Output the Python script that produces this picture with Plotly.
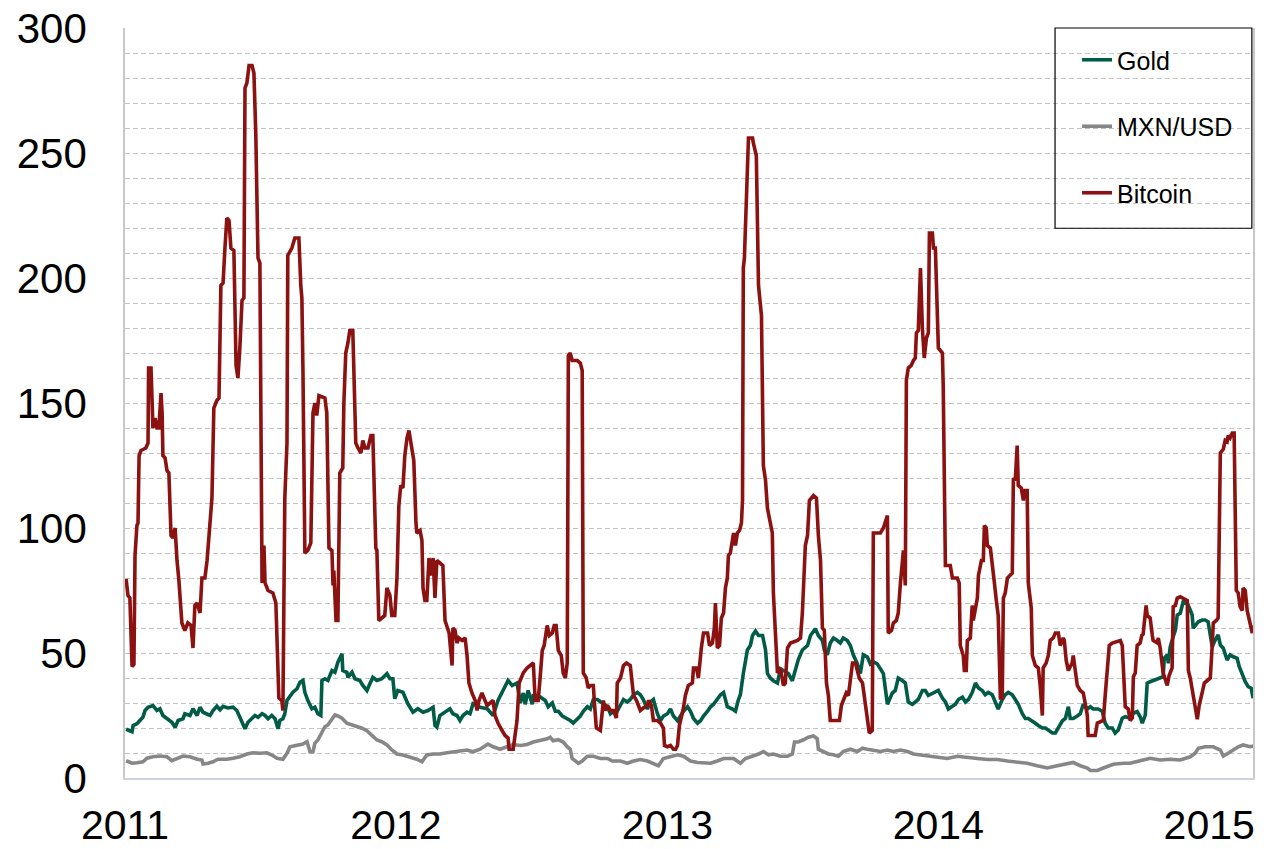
import numpy as np
import pandas as pd
import plotly.graph_objects as go

# ---- data: (decimal year, annualised volatility %) ----
btc = [
(2011.004,79.6),(2011.011,73),(2011.018,72),(2011.026,44.6),(2011.033,45.5),(2011.037,89),(2011.044,101),(2011.048,102),(2011.052,129),(2011.059,131),(2011.077,132),(2011.085,134),(2011.087,164),(2011.096,164),(2011.100,151),(2011.103,140),(2011.111,144),(2011.118,140),(2011.125,140),(2011.133,154),(2011.137,146),(2011.140,129),(2011.148,128),(2011.155,123),(2011.162,122),(2011.170,97),(2011.177,96),(2011.185,100),(2011.192,87),(2011.199,79),(2011.210,62),(2011.221,59),(2011.232,62),(2011.244,61),(2011.251,52),(2011.258,69),(2011.266,70),(2011.277,66),(2011.284,80),(2011.295,80),(2011.303,87),(2011.314,100),(2011.321,112),(2011.328,148),(2011.339,151),(2011.347,152),(2011.354,197),(2011.362,198),(2011.365,208),(2011.369,212),(2011.376,224),(2011.384,223),(2011.391,212),(2011.402,211),(2011.410,165),(2011.417,160),(2011.424,172),(2011.432,191),(2011.439,192),(2011.443,276),(2011.450,278),(2011.458,285),(2011.469,285),(2011.476,282),(2011.483,257),(2011.491,208),(2011.498,206),(2011.506,78),(2011.513,93),(2011.517,78),(2011.528,75),(2011.546,74),(2011.557,70),(2011.565,47),(2011.568,32),(2011.579,31),(2011.583,27),(2011.590,112),(2011.598,134),(2011.601,209),(2011.616,212),(2011.627,216),(2011.642,216),(2011.649,197),(2011.653,192),(2011.657,163),(2011.664,90),(2011.675,91),(2011.686,94),(2011.694,146),(2011.701,150),(2011.708,145),(2011.716,153),(2011.738,152),(2011.745,146),(2011.753,92),(2011.764,91),(2011.768,77),(2011.771,83),(2011.779,63),(2011.786,63),(2011.793,122),(2011.804,124),(2011.808,150),(2011.815,170),(2011.823,174),(2011.830,179),(2011.841,179),(2011.845,163),(2011.852,134),(2011.860,132),(2011.871,130),(2011.878,135),(2011.886,132),(2011.897,132),(2011.908,137),(2011.915,137),(2011.926,92),(2011.930,91),(2011.937,63),(2011.948,64),(2011.959,65),(2011.967,76),(2011.978,73),(2011.985,65),(2011.996,65),
(2012.004,80),(2012.011,109),(2012.018,117),(2012.026,116),(2012.033,129),(2012.041,136),(2012.048,139),(2012.059,132),(2012.066,127),(2012.074,102),(2012.077,98),(2012.089,99),(2012.096,95),(2012.100,76),(2012.107,71),(2012.114,71),(2012.122,88),(2012.129,81),(2012.137,88),(2012.144,72),(2012.151,87),(2012.162,86),(2012.173,85),(2012.181,63),(2012.188,61),(2012.196,58),(2012.207,45),(2012.210,60),(2012.218,59),(2012.225,54),(2012.232,56),(2012.244,55),(2012.255,56),(2012.262,49),(2012.269,38),(2012.280,34),(2012.292,31),(2012.299,27),(2012.306,31),(2012.317,34),(2012.328,31),(2012.336,29),(2012.347,30),(2012.358,31),(2012.365,25),(2012.376,22),(2012.391,19),(2012.402,17),(2012.413,16),(2012.417,11.5),(2012.432,11.5),(2012.439,17),(2012.446,23),(2012.454,38),(2012.469,42),(2012.483,44),(2012.506,46),(2012.513,31),(2012.524,31),(2012.531,40),(2012.539,51),(2012.546,53),(2012.553,60),(2012.557,61),(2012.565,57),(2012.576,58),(2012.583,61),(2012.590,61),(2012.598,51),(2012.609,49),(2012.616,42),(2012.624,40),(2012.631,46),(2012.635,169),(2012.642,170),(2012.649,167),(2012.668,167),(2012.679,166),(2012.686,163),(2012.690,42),(2012.701,40),(2012.708,36),(2012.716,37),(2012.727,37),(2012.731,30),(2012.738,20),(2012.753,19),(2012.760,25),(2012.764,31),(2012.771,27),(2012.779,29),(2012.790,27),(2012.801,27),(2012.812,24),(2012.815,38),(2012.827,40),(2012.838,45),(2012.849,46),(2012.863,45),(2012.875,33),(2012.886,31),(2012.893,29),(2012.900,27),(2012.911,28),(2012.926,29),(2012.930,31),(2012.941,29),(2012.948,23),(2012.963,23),(2012.974,22),(2012.985,20),(2012.989,13),
(2013.000,12.5),(2013.011,13),(2013.022,11.5),(2013.030,11.5),(2013.037,13),(2013.044,21),(2013.059,28),(2013.066,33),(2013.077,37),(2013.092,38),(2013.096,44),(2013.107,44),(2013.114,40),(2013.125,52),(2013.133,58),(2013.148,58),(2013.155,53),(2013.166,54),(2013.173,60),(2013.177,70),(2013.184,52),(2013.192,53),(2013.199,64),(2013.207,66),(2013.214,76),(2013.221,80),(2013.225,89),(2013.232,90),(2013.240,97),(2013.244,98),(2013.251,93),(2013.258,98),(2013.266,99),(2013.273,102),(2013.277,111),(2013.280,204),(2013.284,208),(2013.288,219),(2013.295,246),(2013.299,256),(2013.314,256),(2013.317,254),(2013.328,249),(2013.332,229),(2013.336,197),(2013.347,185),(2013.354,125),(2013.362,119),(2013.369,108),(2013.376,104),(2013.387,98),(2013.391,74),(2013.399,53),(2013.406,42),(2013.417,44),(2013.428,37),(2013.435,38),(2013.443,52),(2013.454,54),(2013.480,55),(2013.491,56),(2013.498,66),(2013.509,93),(2013.517,97),(2013.524,111),(2013.539,113),(2013.550,112),(2013.557,97),(2013.565,87),(2013.572,60),(2013.579,59),(2013.587,38),(2013.594,33),(2013.601,23),(2013.635,23),(2013.642,29),(2013.649,31),(2013.660,34),(2013.668,33),(2013.675,38),(2013.683,46),(2013.694,46),(2013.701,43),(2013.708,40),(2013.720,38),(2013.727,32),(2013.738,23),(2013.745,18),(2013.756,19),(2013.760,98),(2013.786,98),(2013.797,100),(2013.812,105),(2013.815,58),(2013.827,59),(2013.834,62),(2013.845,63),(2013.852,66),(2013.860,78),(2013.867,87),(2013.871,91),(2013.878,77),(2013.882,159),(2013.889,164),(2013.900,165),(2013.908,167),(2013.915,168),(2013.919,178),(2013.926,179),(2013.934,204),(2013.941,180),(2013.948,168),(2013.956,176),(2013.963,178),(2013.967,218),(2013.978,218),(2013.982,212),(2013.989,212),(2013.996,182),
(2014.000,172),(2014.015,170),(2014.018,157),(2014.026,85),(2014.044,85),(2014.052,80),(2014.070,80),(2014.077,78),(2014.081,53),(2014.092,49),(2014.096,43),(2014.103,43),(2014.107,55),(2014.118,56),(2014.125,69),(2014.129,63),(2014.137,69),(2014.144,72),(2014.148,81),(2014.159,87),(2014.166,87),(2014.170,101),(2014.177,100),(2014.181,93),(2014.192,92),(2014.199,84),(2014.207,78),(2014.214,71),(2014.221,65),(2014.229,32),(2014.236,32),(2014.240,72),(2014.247,74),(2014.255,80),(2014.262,81),(2014.273,82),(2014.277,120),(2014.284,119),(2014.291,133),(2014.295,117),(2014.306,116),(2014.314,111),(2014.317,115),(2014.328,115),(2014.332,78),(2014.343,68),(2014.347,49),(2014.358,45),(2014.369,44),(2014.376,37),(2014.384,25),(2014.387,44),(2014.398,46),(2014.406,49),(2014.413,55),(2014.424,56),(2014.432,58),(2014.443,58),(2014.450,53),(2014.461,56),(2014.465,55),(2014.472,47),(2014.480,43),(2014.494,46),(2014.498,49),(2014.506,41),(2014.513,37),(2014.524,35),(2014.535,34),(2014.542,30),(2014.550,25),(2014.553,17),(2014.579,17),(2014.587,22),(2014.609,23),(2014.616,33),(2014.624,42),(2014.631,53),(2014.642,54),(2014.672,55),(2014.679,53),(2014.690,28.5),(2014.701,27.6),(2014.708,23),(2014.716,24),(2014.720,40.5),(2014.727,42),(2014.734,53),(2014.745,54),(2014.751,57),(2014.756,57.5),(2014.767,69),(2014.771,65),(2014.782,64),(2014.790,57),(2014.793,55),(2014.808,54),(2014.812,56),(2014.819,52),(2014.827,43),(2014.830,42),(2014.845,37),(2014.852,41),(2014.863,44),(2014.867,68.5),(2014.875,69),(2014.882,72),(2014.893,72.5),(2014.904,72),(2014.919,71),(2014.923,43),(2014.930,40),(2014.941,33),(2014.948,29),(2014.956,23.5),(2014.963,29),(2014.974,34),(2014.982,38),(2014.993,39),
(2015.004,40),(2015.011,53),(2015.015,62),(2015.026,63),(2015.033,64),(2015.041,130),(2015.052,131.5),(2015.059,135),(2015.066,134.5),(2015.070,137),(2015.077,136),(2015.085,138),(2015.092,138),(2015.100,75),(2015.107,74),(2015.114,68.5),(2015.122,67),(2015.125,76),(2015.133,75),(2015.140,67),(2015.151,62),(2015.159,58),(2015.162,61)]

gold = [
(2011.004,19.5),(2011.026,18.5),(2011.030,21),(2011.044,21.7),(2011.066,24.3),(2011.074,27),(2011.085,28.3),(2011.103,29),(2011.118,27),(2011.129,27.7),(2011.140,25),(2011.155,23.7),(2011.173,22.3),(2011.185,20.3),(2011.196,23),(2011.214,23.7),(2011.221,25.7),(2011.240,25),(2011.251,27.7),(2011.266,25),(2011.277,28.3),(2011.288,26.3),(2011.303,25.7),(2011.314,25),(2011.325,27),(2011.339,28.7),(2011.351,27.3),(2011.362,28.7),(2011.380,28),(2011.399,28.3),(2011.413,27),(2011.424,24.3),(2011.435,21.7),(2011.443,19.7),(2011.454,22.3),(2011.469,23.7),(2011.480,25),(2011.491,24.3),(2011.506,25.7),(2011.517,25),(2011.528,23.7),(2011.542,25),(2011.554,23.7),(2011.565,19.7),(2011.572,23),(2011.583,23.7),(2011.590,25.7),(2011.598,31),(2011.609,33),(2011.620,34.3),(2011.635,35.7),(2011.646,38.3),(2011.657,39),(2011.664,34.3),(2011.675,31),(2011.690,27.7),(2011.701,28.3),(2011.712,25.7),(2011.723,25),(2011.727,39),(2011.738,39.7),(2011.749,39),(2011.764,43),(2011.775,42.3),(2011.786,46.3),(2011.801,49.7),(2011.804,43),(2011.819,42.3),(2011.823,40.3),(2011.838,42.3),(2011.849,39.7),(2011.867,39),(2011.878,37),(2011.893,35),(2011.904,37.7),(2011.915,40.3),(2011.930,39),(2011.948,39.7),(2011.967,41.7),(2011.978,39.7),(2011.989,39.7),(2011.996,31.7),
(2012.007,35),(2012.026,34.3),(2012.044,29.7),(2012.063,26.3),(2012.081,27.7),(2012.100,26.3),(2012.118,27),(2012.137,28.3),(2012.144,21),(2012.151,20.3),(2012.162,25),(2012.181,26.3),(2012.199,27.7),(2012.210,25.7),(2012.225,25),(2012.236,23),(2012.247,25),(2012.262,26.3),(2012.273,25.7),(2012.284,29.7),(2012.310,28.3),(2012.336,27.7),(2012.358,25),(2012.376,31),(2012.395,35),(2012.413,39),(2012.428,37),(2012.446,38),(2012.458,30),(2012.469,34),(2012.476,29.5),(2012.487,35),(2012.502,29.5),(2012.506,33),(2012.524,33),(2012.539,32),(2012.550,31),(2012.561,28.5),(2012.576,30),(2012.587,26.7),(2012.598,26.7),(2012.613,24.8),(2012.631,23.8),(2012.642,23),(2012.653,22),(2012.668,23.8),(2012.679,24.8),(2012.690,26.7),(2012.705,28.5),(2012.716,27.6),(2012.727,31.4),(2012.742,31.4),(2012.753,30.4),(2012.764,29.5),(2012.779,28.5),(2012.790,25.7),(2012.801,26.7),(2012.815,26.7),(2012.827,29.5),(2012.838,31.4),(2012.852,30.4),(2012.863,31.4),(2012.875,33.3),(2012.889,34.2),(2012.900,33.3),(2012.911,31.4),(2012.926,27.6),(2012.937,30.4),(2012.948,31.4),(2012.963,25.7),(2012.974,22.9),(2012.985,24.8),
(2013.000,25.7),(2013.011,27.6),(2013.022,24.8),(2013.037,22.9),(2013.048,24.8),(2013.059,26.7),(2013.074,28.5),(2013.085,26.7),(2013.096,23.8),(2013.111,21.9),(2013.122,22.9),(2013.133,24.8),(2013.148,26.7),(2013.159,28.5),(2013.170,29.5),(2013.184,31.4),(2013.196,33.3),(2013.207,34.2),(2013.221,28.5),(2013.240,27.6),(2013.251,26.7),(2013.262,31.4),(2013.269,33.3),(2013.280,41.8),(2013.295,51.2),(2013.306,53),(2013.314,57),(2013.325,58.8),(2013.336,57),(2013.351,57),(2013.362,51.2),(2013.369,41.8),(2013.380,39.9),(2013.391,38.9),(2013.406,38),(2013.417,43.7),(2013.435,42.7),(2013.446,41.8),(2013.461,38.9),(2013.472,43.7),(2013.483,47.4),(2013.498,51.2),(2013.517,53),(2013.528,57),(2013.546,59.7),(2013.557,57),(2013.572,55),(2013.579,51.2),(2013.590,49.3),(2013.601,54),(2013.613,56),(2013.627,55),(2013.638,54),(2013.649,56),(2013.664,55),(2013.675,53),(2013.686,49.3),(2013.701,45.6),(2013.712,41.8),(2013.723,49.3),(2013.738,48.4),(2013.749,45.6),(2013.760,46.5),(2013.775,45.6),(2013.786,43.7),(2013.797,41.8),(2013.812,29.5),(2013.830,34),(2013.841,35),(2013.852,40),(2013.867,39),(2013.878,38),(2013.889,30.4),(2013.904,29.5),(2013.915,30.4),(2013.926,31.4),(2013.941,35),(2013.952,35),(2013.963,33),(2013.982,34),
(2014.000,35),(2014.015,32),(2014.026,30.4),(2014.037,27.6),(2014.052,28.5),(2014.063,29.5),(2014.074,31.4),(2014.089,32.3),(2014.100,30.4),(2014.111,31.4),(2014.125,34.2),(2014.137,38),(2014.148,36),(2014.162,35),(2014.173,33.3),(2014.184,34.2),(2014.199,33.3),(2014.210,30.4),(2014.221,27.6),(2014.236,31.4),(2014.247,33.3),(2014.258,34.2),(2014.273,33.3),(2014.284,31.4),(2014.295,29.5),(2014.310,25.7),(2014.321,23.8),(2014.332,23.8),(2014.347,22.9),(2014.358,21.9),(2014.369,21),(2014.384,20),(2014.395,20),(2014.406,19),(2014.421,18),(2014.432,18),(2014.443,20),(2014.458,22.9),(2014.469,23.8),(2014.480,28.5),(2014.487,23.8),(2014.498,23.8),(2014.513,24.8),(2014.524,25.7),(2014.535,29.5),(2014.550,27.6),(2014.561,28.5),(2014.572,27.6),(2014.590,27.6),(2014.605,26.7),(2014.616,21.9),(2014.627,20),(2014.642,20),(2014.653,18),(2014.664,19.2),(2014.679,23.9),(2014.690,24.5),(2014.708,23.9),(2014.720,25.9),(2014.734,26.6),(2014.745,24.5),(2014.753,21.9),(2014.764,25.2),(2014.771,37.9),(2014.782,38.5),(2014.801,39.2),(2014.819,39.9),(2014.830,40.5),(2014.834,47.9),(2014.845,49.2),(2014.849,45.9),(2014.856,52.5),(2014.867,56.5),(2014.875,59.2),(2014.882,65.2),(2014.893,65.9),(2014.904,70.5),(2014.919,69.9),(2014.930,67.2),(2014.937,65.2),(2014.941,59.9),(2014.952,61.2),(2014.960,62.5),(2014.974,63.2),(2014.985,63.2),(2014.996,62.5),
(2015.004,56.5),(2015.011,52.5),(2015.022,55.2),(2015.033,57.2),(2015.041,53.2),(2015.052,51.9),(2015.066,47.2),(2015.077,49.2),(2015.089,48.5),(2015.103,47.9),(2015.111,44.5),(2015.122,41.2),(2015.133,38.5),(2015.144,36.5),(2015.155,35.9),(2015.162,31.9)]

mxn = [
(2011.004,6.9),(2011.026,5.9),(2011.044,6.1),(2011.066,6.5),(2011.081,7.9),(2011.103,8.5),(2011.129,8.8),(2011.155,8.5),(2011.173,6.9),(2011.192,7.9),(2011.214,8.8),(2011.240,8.5),(2011.266,7.5),(2011.284,7.2),(2011.288,5.6),(2011.306,5.9),(2011.325,6.5),(2011.343,7.5),(2011.376,7.5),(2011.399,7.9),(2011.424,8.5),(2011.450,9.6),(2011.472,10.1),(2011.498,9.9),(2011.524,10.1),(2011.542,9.2),(2011.561,7.9),(2011.583,7.5),(2011.598,9.9),(2011.609,12.5),(2011.635,13.2),(2011.657,13.6),(2011.672,14.5),(2011.683,10.5),(2011.694,10.5),(2011.701,13.9),(2011.712,15.2),(2011.727,18.5),(2011.738,20.5),(2011.749,21.2),(2011.764,23.2),(2011.775,25.2),(2011.786,24.8),(2011.801,23.9),(2011.819,21.9),(2011.838,21.2),(2011.856,20.8),(2011.875,19.9),(2011.893,18.9),(2011.911,17.2),(2011.930,15.2),(2011.948,14.5),(2011.967,13.2),(2011.985,11.2),
(2012.004,9.6),(2012.026,9.2),(2012.052,8.5),(2012.077,7.5),(2012.096,6.5),(2012.114,9.2),(2012.137,9.6),(2012.162,9.6),(2012.188,10.1),(2012.210,10.5),(2012.236,10.9),(2012.262,11.2),(2012.284,10.5),(2012.310,11.5),(2012.339,13.6),(2012.358,12.5),(2012.384,11.5),(2012.410,12.5),(2012.432,13.4),(2012.458,13),(2012.483,13.4),(2012.506,14.4),(2012.531,14.9),(2012.557,15.7),(2012.568,16.3),(2012.579,14.9),(2012.598,15.3),(2012.616,14.4),(2012.631,12.5),(2012.642,11.5),(2012.649,7.8),(2012.661,6.8),(2012.672,5.9),(2012.686,6.8),(2012.705,8.7),(2012.727,8.7),(2012.753,7.8),(2012.779,7.8),(2012.797,6.8),(2012.827,6.8),(2012.852,5.9),(2012.875,6.8),(2012.900,7.4),(2012.926,6.8),(2012.948,5.9),(2012.967,4.9),(2012.985,7.8),
(2013.011,8.7),(2013.037,9.3),(2013.059,8.7),(2013.085,6.8),(2013.111,6.2),(2013.133,5.9),(2013.159,5.9),(2013.184,6.8),(2013.207,7.8),(2013.244,7.8),(2013.269,5.9),(2013.288,7.8),(2013.314,8.7),(2013.336,9.6),(2013.354,10.6),(2013.373,9.3),(2013.391,9.6),(2013.417,8.7),(2013.443,8.7),(2013.461,9.6),(2013.469,14.4),(2013.483,14.4),(2013.502,15.3),(2013.520,16.3),(2013.539,16.8),(2013.553,15.7),(2013.557,11.5),(2013.576,10.6),(2013.594,9.6),(2013.613,9.3),(2013.631,8.7),(2013.649,10.6),(2013.675,11.5),(2013.701,10.6),(2013.720,11.9),(2013.738,11.5),(2013.760,11.2),(2013.786,10.6),(2013.812,11.2),(2013.834,10.6),(2013.860,11.2),(2013.886,10.6),(2013.908,9.6),(2013.934,9.3),(2013.982,8.7),
(2014.033,7.8),(2014.070,8.7),(2014.107,8.1),(2014.144,7.8),(2014.181,7.4),(2014.218,7.4),(2014.255,6.8),(2014.291,6.2),(2014.328,5.9),(2014.365,4.9),(2014.402,4.0),(2014.439,4.9),(2014.476,5.9),(2014.498,6.2),(2014.524,4.9),(2014.550,4.0),(2014.561,3.0),(2014.587,3.0),(2014.609,4.0),(2014.646,5.5),(2014.683,5.9),(2014.708,5.9),(2014.756,7.2),(2014.782,7.9),(2014.819,7.2),(2014.856,7.5),(2014.893,7.2),(2014.930,8.5),(2014.948,9.9),(2014.960,11.9),(2014.985,12.5),
(2015.015,12.5),(2015.041,11.2),(2015.052,8.8),(2015.070,9.9),(2015.089,11.2),(2015.107,12.5),(2015.125,13.2),(2015.151,12.5),(2015.162,12.8)]

series_names = ["Gold", "MXN/USD", "Bitcoin"]
series_colors = ["#005b47", "#878787", "#8c1212"]
x_tick_labels = ["2011", "2012", "2013", "2014", "2015"]
y_tick_values = [0, 50, 100, 150, 200, 250, 300]
x_range = ["2011-01-01", "2015-03-01"]


def to_date(t):
    y = int(np.floor(t))
    start = pd.Timestamp(year=y, month=1, day=1)
    days = (pd.Timestamp(year=y + 1, month=1, day=1) - start).days
    return start + pd.Timedelta(days=(t - y) * days)


fig = go.Figure()
for name, color, data in zip(series_names, series_colors, [gold, mxn, btc]):
    ts, vs = zip(*data)
    fig.add_trace(go.Scatter(
        x=[to_date(t) for t in ts], y=list(vs), mode="lines", name=name,
        legendgroup=name,
        line=dict(color=color, width=3.6),
    ))

FONT = "Liberation Sans, Arial, sans-serif"

fig.update_layout(
    width=1264, height=849,
    margin=dict(l=125, r=11, t=28, b=71),
    paper_bgcolor="white", plot_bgcolor="white",
    font=dict(family=FONT, color="black"),
    showlegend=True,
    legend=dict(
        x=0.844, y=0.988, xanchor="left", yanchor="top",
        bgcolor="rgba(0,0,0,0)", borderwidth=0,
        font=dict(family=FONT, size=25, color="black"),
        tracegroupgap=31, traceorder="grouped",
        itemwidth=30,
    ),
    xaxis=dict(
        type="date", range=x_range, automargin=False,
        tickvals=[f"{s}-01-01" for s in x_tick_labels], ticktext=x_tick_labels,
        tickfont=dict(family=FONT, size=41, color="black"),
        showgrid=False, zeroline=False,
        showline=True, linecolor="#cdd3dc", linewidth=1.5, mirror=False,
        ticks="", ticklabelstandoff=10,
    ),
    yaxis=dict(
        range=[0, 300], tickvals=y_tick_values, automargin=False,
        tickfont=dict(family=FONT, size=42, color="black"),
        showgrid=True, gridcolor="#c4c4c4", gridwidth=1, griddash="5px,3px",
        minor=dict(dtick=10, showgrid=True, gridcolor="#c4c4c4", gridwidth=1, griddash="5px,3px"),
        zeroline=False,
        showline=True, linecolor="#c8c8c8", linewidth=1.5, mirror=True,
        ticks="", ticklabelstandoff=28,
    ),
    shapes=[dict(
        type="rect", xref="paper", yref="paper",
        x0=0.8245, x1=0.999, y0=0.733, y1=1.0,
        line=dict(color="black", width=1.2), fillcolor="rgba(0,0,0,0)", layer="above",
    )],
)

fig.write_html(
    "out.html",
    config={"displayModeBar": False},
    post_script="document.body.style.margin='0px';document.body.style.overflow='hidden';",
)
